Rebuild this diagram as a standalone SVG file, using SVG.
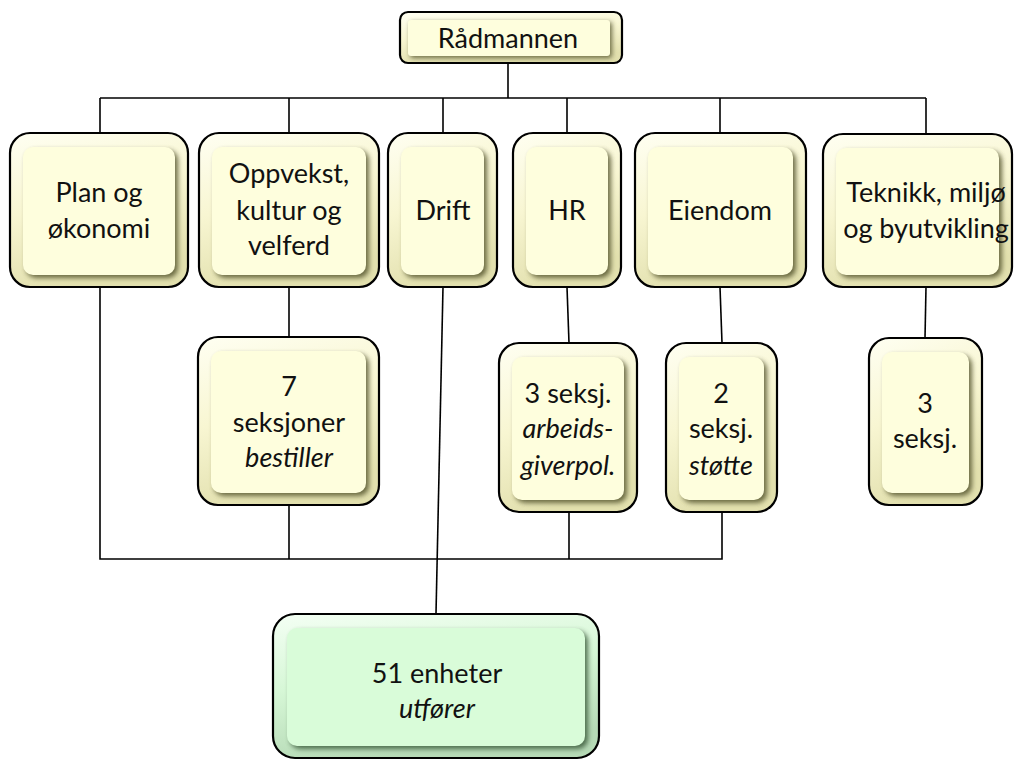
<svg xmlns="http://www.w3.org/2000/svg" width="1019" height="762" viewBox="0 0 1019 762">
<defs>
<linearGradient id="gy" x1="0" y1="0" x2="0.3" y2="1">
<stop offset="0" stop-color="#FFFFF2"/><stop offset="0.5" stop-color="#F8F6D2"/><stop offset="1" stop-color="#E2E0AE"/>
</linearGradient>
<linearGradient id="gg" x1="0" y1="0" x2="0.3" y2="1">
<stop offset="0" stop-color="#F4FFF4"/><stop offset="0.5" stop-color="#D6F7D6"/><stop offset="1" stop-color="#B6DAB6"/>
</linearGradient>
<filter id="bl" x="-20%" y="-20%" width="140%" height="140%"><feGaussianBlur stdDeviation="2.5"/></filter>
<style>
.out{fill:url(#gy);stroke:#000;stroke-width:2.2}
.outg{fill:url(#gg);stroke:#000;stroke-width:2.2}
.shd{fill:#55542F;opacity:.85;filter:url(#bl)}
.shdg{fill:#3A5A3A;opacity:.85;filter:url(#bl)}
.inn{fill:#FEFEDD}
.inng{fill:#D9FCD9}
text{font-family:Lato,"Open Sans","Liberation Sans",sans-serif;font-size:27px;fill:#111;text-anchor:middle}
.it{font-style:italic}
.con line,.con polyline{stroke:#000;stroke-width:1.6;fill:none}
</style>
</defs>
<rect width="1019" height="762" fill="#fff"/>
<g class="con" id="connectors">
<line x1="508" y1="63" x2="508" y2="98"/>
<line x1="100" y1="98" x2="926" y2="98"/>
<line x1="100" y1="98" x2="100" y2="133"/>
<line x1="289" y1="98" x2="289" y2="133"/>
<line x1="443" y1="98" x2="443" y2="133"/>
<line x1="567" y1="98" x2="567" y2="133"/>
<line x1="720" y1="98" x2="720" y2="133"/>
<line x1="926" y1="98" x2="926" y2="134"/>
<line x1="289" y1="287" x2="289" y2="337"/>
<line x1="567" y1="287" x2="569" y2="343"/>
<line x1="720" y1="287" x2="722" y2="343"/>
<line x1="926" y1="287" x2="925" y2="338"/>
<polyline points="100,287 100,559 722,559 722,512"/>
<line x1="289" y1="505" x2="289" y2="559"/>
<line x1="569" y1="512" x2="569" y2="559"/>
<line x1="443" y1="287" x2="436" y2="614"/>
</g>
<g id="radmannen">
<rect class="out" x="400" y="12" width="222" height="51" rx="8"/>
<rect class="shd" x="410" y="22" width="202" height="36" rx="3"/>
<rect class="inn" x="408" y="20" width="202" height="36" rx="3"/>
<text x="508" y="48">Rådmannen</text>
</g>
<g id="plan">
<rect class="out" x="10" y="133" width="178" height="154" rx="20"/>
<rect class="shd" x="26" y="150" width="152" height="128" rx="10"/>
<rect class="inn" x="23" y="147" width="152" height="128" rx="10"/>
<text x="99" y="202">Plan og</text>
<text x="99" y="238">økonomi</text>
</g>
<g id="oppvekst">
<rect class="out" x="199" y="133" width="180" height="154" rx="20"/>
<rect class="shd" x="215" y="150" width="154" height="128" rx="10"/>
<rect class="inn" x="212" y="147" width="154" height="128" rx="10"/>
<text x="289" y="183">Oppvekst,</text>
<text x="289" y="220">kultur og</text>
<text x="289" y="255">velferd</text>
</g>
<g id="drift">
<rect class="out" x="388" y="133" width="109" height="154" rx="20"/>
<rect class="shd" x="404" y="150" width="83" height="128" rx="10"/>
<rect class="inn" x="401" y="147" width="83" height="128" rx="10"/>
<text x="443" y="220">Drift</text>
</g>
<g id="hr">
<rect class="out" x="513" y="133" width="108" height="154" rx="20"/>
<rect class="shd" x="529" y="150" width="82" height="128" rx="10"/>
<rect class="inn" x="526" y="147" width="82" height="128" rx="10"/>
<text x="567" y="220">HR</text>
</g>
<g id="eiendom">
<rect class="out" x="635" y="133" width="171" height="154" rx="20"/>
<rect class="shd" x="651" y="150" width="145" height="128" rx="10"/>
<rect class="inn" x="648" y="147" width="145" height="128" rx="10"/>
<text x="720" y="220">Eiendom</text>
</g>
<g id="teknikk">
<rect class="out" x="823" y="134" width="189" height="153" rx="20"/>
<rect class="shd" x="839" y="151" width="163" height="127" rx="10"/>
<rect class="inn" x="836" y="148" width="163" height="127" rx="10"/>
<text x="926" y="202">Teknikk, miljø</text>
<text x="926" y="238">og byutvikling</text>
</g>
<g id="seksjoner7">
<rect class="out" x="198" y="337" width="181" height="168" rx="20"/>
<rect class="shd" x="214" y="354" width="155" height="142" rx="10"/>
<rect class="inn" x="211" y="351" width="155" height="142" rx="10"/>
<text x="289" y="396">7</text>
<text x="289" y="432">seksjoner</text>
<text x="289" y="467" class="it">bestiller</text>
</g>
<g id="hr-seksj">
<rect class="out" x="499" y="343" width="138" height="169" rx="20"/>
<rect class="shd" x="515" y="360" width="112" height="143" rx="10"/>
<rect class="inn" x="512" y="357" width="112" height="143" rx="10"/>
<text x="568" y="403">3 seksj.</text>
<text x="568" y="438" class="it">arbeids-</text>
<text x="568" y="475" class="it">giverpol.</text>
</g>
<g id="eiendom-seksj">
<rect class="out" x="666" y="343" width="111" height="169" rx="20"/>
<rect class="shd" x="682" y="360" width="85" height="143" rx="10"/>
<rect class="inn" x="679" y="357" width="85" height="143" rx="10"/>
<text x="721" y="403">2</text>
<text x="721" y="438">seksj.</text>
<text x="721" y="475" class="it">støtte</text>
</g>
<g id="teknikk-seksj">
<rect class="out" x="869" y="338" width="113" height="167" rx="20"/>
<rect class="shd" x="885" y="355" width="87" height="141" rx="10"/>
<rect class="inn" x="882" y="352" width="87" height="141" rx="10"/>
<text x="925" y="413">3</text>
<text x="925" y="448">seksj.</text>
</g>
<g id="enheter">
<rect class="outg" x="273" y="614" width="326" height="144" rx="22"/>
<rect class="shdg" x="290" y="631" width="298" height="118" rx="10"/>
<rect class="inng" x="287" y="628" width="298" height="118" rx="10"/>
<text x="437" y="683">51 enheter</text>
<text x="437" y="718" class="it">utfører</text>
</g>
</svg>
